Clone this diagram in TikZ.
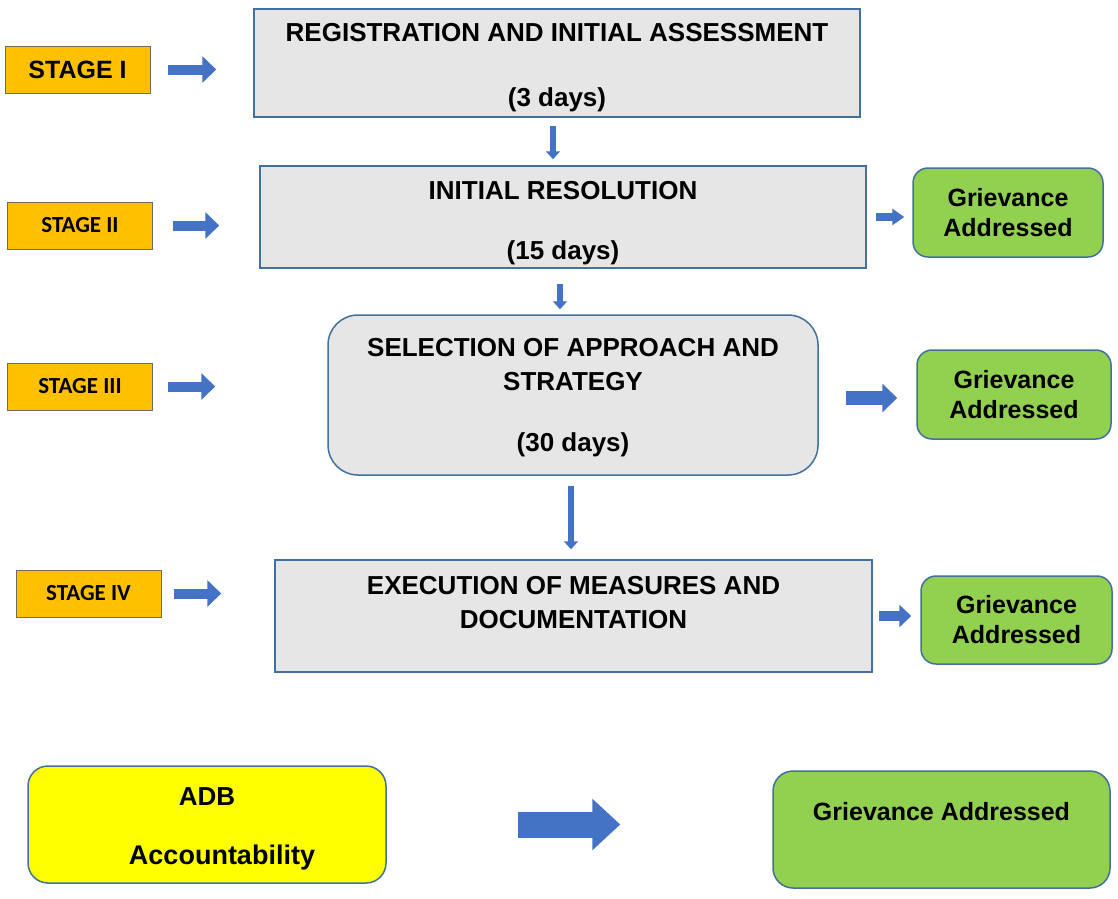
\documentclass[tikz,border=0pt]{standalone}
\usepackage{fontspec}
\setmainfont{Liberation Sans}
\newfontfamily\calibri{Carlito}
\usetikzlibrary{arrows.meta, positioning}
\definecolor{edgeblue}{HTML}{41719C}
\definecolor{arrowblue}{HTML}{4472C4}
\definecolor{boxgray}{HTML}{E6E6E6}
\definecolor{stageorange}{HTML}{FFC000}
\definecolor{stageedge}{HTML}{6F6A5A}
\definecolor{donegreen}{HTML}{92D050}
\definecolor{adbyellow}{HTML}{FFFF00}

\begin{document}
\begin{tikzpicture}[x=1pt, y=-1pt,
  stage/.style={draw=stageedge, line width=1pt, fill=stageorange, minimum width=145pt, minimum height=47pt, inner sep=0pt},
  mainbox/.style={draw=edgeblue, line width=1.5pt, fill=boxgray, inner sep=0pt},
  boxtext/.style={align=center, inner sep=0pt, font=\fontsize{26}{34}\selectfont\bfseries},
  done/.style={draw=edgeblue, line width=1.5pt, fill=donegreen, rounded corners=15pt, align=center, inner sep=0pt, font=\fontsize{25}{30}\selectfont\bfseries},
  blk/.style n args={3}{draw=arrowblue, line width=#1, -{Triangle[width=#2, length=#3]}},
  stagearrow/.style={blk={10pt}{26pt}{14pt}},
  downarrow/.style={blk={6pt}{14pt}{8pt}}
]
\useasboundingbox (0,0) rectangle (1118,898);

% stages
\node[stage, font=\fontsize{25}{30}\selectfont\bfseries] (s1) at (77.5,69.5) {STAGE I};
\node[stage, font=\calibri\fontsize{23}{28}\selectfont\bfseries] (s2) at (80,225.5) {STAGE II};
\node[stage, font=\calibri\fontsize{23}{28}\selectfont\bfseries] (s3) at (80,386.5) {STAGE III};
\node[stage, font=\calibri\fontsize{23}{28}\selectfont\bfseries] (s4) at (88.5,593.5) {STAGE IV};

% main boxes
\node[mainbox, minimum width=606pt, minimum height=108pt] (b1) at (557,63) {};
\node[boxtext] (b1t) at (557,33) {REGISTRATION AND INITIAL ASSESSMENT};
\node[boxtext] (b1d) at (557,100) {(3 days)};

\node[mainbox, minimum width=606pt, minimum height=102pt] (b2) at (563,217) {};
\node[boxtext] (b2t) at (563,191) {INITIAL RESOLUTION};
\node[boxtext] (b2d) at (563,253) {(15 days)};

\node[mainbox, rounded corners=30pt, minimum width=490pt, minimum height=160pt] (b3) at (573,395) {};
\node[boxtext] (b3t) at (573,365) {SELECTION OF APPROACH AND\\STRATEGY};
\node[boxtext] (b3d) at (573,445) {(30 days)};

\node[mainbox, minimum width=597pt, minimum height=112pt] (b4) at (573.5,616) {};
\node[boxtext] (b4t) at (573.5,603) {EXECUTION OF MEASURES AND\\DOCUMENTATION};

% outcomes
\node[done, minimum width=190pt, minimum height=89pt] (g1) at (1008,212.5) {Grievance\\Addressed};
\node[done, minimum width=194pt, minimum height=89pt] (g2) at (1014,394.5) {Grievance\\Addressed};
\node[done, minimum width=191pt, minimum height=88pt] (g3) at (1016.5,620) {Grievance\\Addressed};

% ADB
\node[mainbox, fill=adbyellow, rounded corners=20pt, minimum width=358pt, minimum height=117pt] (adb) at (207,824.5) {};
\node[boxtext] (adbt) at (207,797) {ADB};
\node[boxtext, font=\fontsize{27}{34}\selectfont\bfseries] (adbd) at (222,858) {Accountability};
\node[done, rounded corners=20pt, minimum width=337pt, minimum height=117pt] (g4) at (941.5,829.5) {};
\node[boxtext, font=\fontsize{25}{30}\selectfont\bfseries] (g4t) at (941.5,812) {Grievance Addressed};

% arrows
\draw[stagearrow, shorten <=17pt, shorten >=37pt] (s1) -- (s1 -| b1.west);
\draw[stagearrow, shorten <=20pt, shorten >=40pt] (s2) -- (s2 -| b2.west);
\draw[stagearrow, shorten <=15pt, shorten >=112pt] (s3) -- (s3 -| b3.west);
\draw[stagearrow, shorten <=12pt, shorten >=53pt] (s4) -- (s4 -| b4.west);

\draw[downarrow, shorten <=8pt, shorten >=6pt] ([xshift=-4pt]b1.south) -- ([xshift=-4pt]b1.south |- b2.north);
\draw[downarrow, shorten <=15pt, shorten >=5pt] ([xshift=-3pt]b2.south) -- ([xshift=-3pt]b2.south |- b3.north);
\draw[downarrow, shorten <=10pt, shorten >=10pt] ([xshift=-2pt]b3.south) -- ([xshift=-2pt]b3.south |- b4.north);

\draw[blk={8pt}{16pt}{12pt}, shorten <=9pt, shorten >=8pt] (b2.east) -- (b2.east -| g1.west);
\draw[blk={14pt}{28pt}{15pt}, shorten <=27pt, shorten >=19pt] ([yshift=-3pt]b3.east) -- ([yshift=-3pt]b3.east -| g2.west);
\draw[blk={10pt}{22pt}{12pt}, shorten <=6pt, shorten >=9pt] (b4.east) -- (b4.east -| g3.west);
\draw[blk={26pt}{50pt}{28pt}, shorten <=131pt, shorten >=152pt] (adb) -- (adb -| g4.west);
\end{tikzpicture}
\end{document}
